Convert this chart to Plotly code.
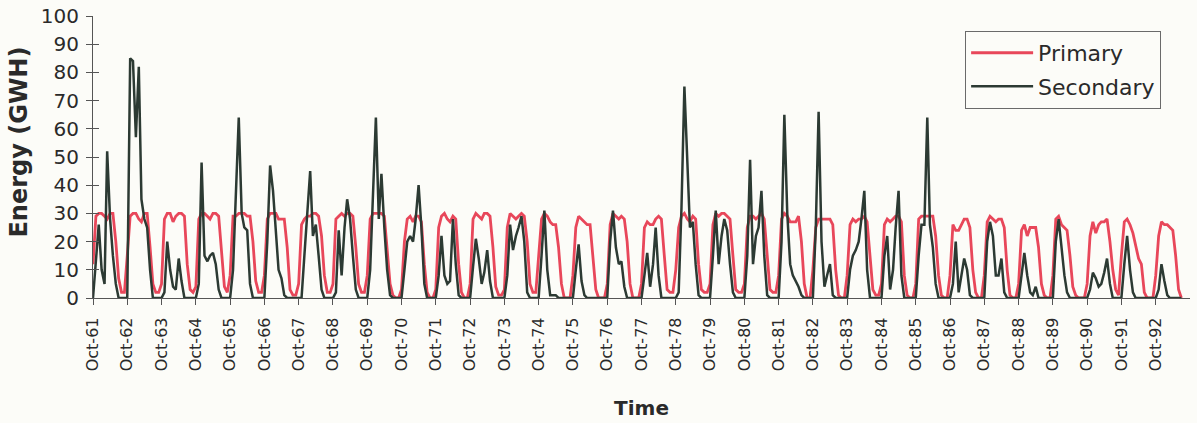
import pandas as pd
import plotly.graph_objects as go

# Monthly energy (GWH), one row per water year starting in October
primary = [
    12, 29, 30, 30, 29, 28, 30, 30, 20, 7, 2, 2,      # Oct-61
    15, 29, 30, 30, 28, 27, 30, 30, 18, 5, 2, 2,      # Oct-62
    5, 28, 30, 30, 27, 29, 30, 30, 29, 12, 3, 2,      # Oct-63
    4, 28, 30, 30, 29, 28, 30, 30, 29, 15, 4, 2,      # Oct-64
    8, 29, 29, 30, 30, 30, 29, 29, 20, 6, 2, 2,       # Oct-65
    8, 28, 30, 30, 30, 28, 28, 28, 18, 3, 1, 1,       # Oct-66
    5, 26, 28, 29, 29, 30, 30, 29, 22, 8, 2, 2,       # Oct-67
    5, 28, 29, 30, 29, 30, 30, 29, 18, 5, 2, 2,       # Oct-68
    8, 28, 30, 30, 30, 30, 29, 18, 5, 1, 0, 0,        # Oct-69
    3, 20, 28, 29, 27, 29, 29, 27, 12, 2, 0, 0,       # Oct-70
    3, 25, 29, 30, 28, 27, 29, 28, 12, 2, 0, 0,       # Oct-71
    5, 28, 30, 29, 28, 30, 30, 29, 18, 4, 1, 1,       # Oct-72
    3, 25, 30, 29, 28, 29, 30, 29, 20, 5, 2, 2,       # Oct-73
    15, 28, 30, 29, 27, 26, 26, 18, 5, 0, 0, 0,       # Oct-74
    8, 25, 29, 28, 27, 26, 26, 15, 3, 0, 0, 0,        # Oct-75
    5, 26, 30, 29, 28, 29, 28, 20, 5, 0, 0, 0,        # Oct-76
    5, 25, 27, 26, 26, 28, 29, 28, 15, 3, 2, 2,       # Oct-77
    10, 25, 29, 30, 28, 27, 29, 28, 12, 3, 2, 2,      # Oct-78
    5, 26, 30, 29, 30, 30, 29, 28, 15, 3, 2, 2,       # Oct-79
    5, 25, 29, 29, 28, 29, 30, 28, 15, 3, 2, 2,       # Oct-80
    8, 28, 30, 29, 27, 27, 27, 29, 20, 5, 0, 0,       # Oct-81
    10, 25, 28, 28, 28, 28, 28, 26, 10, 1, 0, 0,      # Oct-82
    8, 26, 28, 27, 28, 28, 29, 27, 15, 3, 1, 1,       # Oct-83
    5, 26, 28, 27, 28, 29, 29, 27, 8, 1, 0, 0,        # Oct-84
    5, 28, 29, 29, 29, 29, 29, 22, 8, 1, 0, 0,        # Oct-85
    8, 26, 24, 24, 26, 28, 28, 25, 10, 2, 0, 0,       # Oct-86
    8, 27, 29, 28, 27, 28, 28, 25, 10, 1, 0, 0,       # Oct-87
    5, 24, 26, 22, 25, 25, 25, 18, 5, 1, 0, 0,        # Oct-88
    8, 28, 29, 26, 25, 24, 15, 4, 1, 0, 0, 0,         # Oct-89
    5, 22, 27, 23, 26, 27, 27, 28, 20, 10, 3, 1,      # Oct-90
    15, 27, 28, 26, 23, 18, 14, 12, 2, 0, 0, 0,       # Oct-91
    8, 22, 27, 26, 26, 25, 24, 15, 3, 0,              # Oct-92
]

secondary = [
    0, 12, 26, 10, 5, 52, 28, 15, 5, 0, 0, 0,         # Oct-61
    0, 85, 84, 57, 82, 35, 28, 25, 10, 0, 0, 0,       # Oct-62
    0, 2, 20, 10, 4, 3, 14, 6, 0, 0, 0, 0,            # Oct-63
    0, 5, 48, 15, 13, 15, 16, 12, 3, 0, 0, 0,         # Oct-64
    0, 10, 40, 64, 30, 25, 24, 5, 0, 0, 0, 0,         # Oct-65
    0, 20, 47, 38, 22, 10, 7, 1, 0, 0, 0, 0,          # Oct-66
    0, 0, 15, 30, 45, 22, 26, 15, 3, 0, 0, 0,         # Oct-67
    0, 2, 24, 8, 25, 35, 28, 15, 3, 0, 0, 0,          # Oct-68
    0, 10, 35, 64, 28, 44, 25, 10, 1, 0, 0, 0,        # Oct-69
    0, 10, 20, 22, 20, 28, 40, 25, 5, 0, 0, 0,        # Oct-70
    0, 8, 22, 8, 5, 6, 28, 12, 1, 0, 0, 0,            # Oct-71
    0, 11, 21, 14, 5, 9, 17, 6, 0, 0, 0, 0,           # Oct-72
    0, 8, 26, 17, 22, 25, 29, 20, 2, 0, 0, 0,         # Oct-73
    0, 15, 31, 10, 1, 1, 1, 0, 0, 0, 0, 0,            # Oct-74
    0, 10, 19, 6, 1, 0, 0, 0, 0, 0, 0, 0,             # Oct-75
    0, 20, 31, 18, 12, 13, 4, 0, 0, 0, 0, 0,          # Oct-76
    0, 8, 16, 4, 12, 25, 8, 0, 0, 0, 0, 0,            # Oct-77
    0, 2, 32, 75, 45, 25, 27, 12, 1, 0, 0, 0,         # Oct-78
    0, 15, 31, 12, 22, 28, 24, 12, 2, 0, 0, 0,        # Oct-79
    0, 15, 49, 12, 22, 25, 38, 15, 1, 0, 0, 0,        # Oct-80
    0, 20, 65, 30, 12, 8, 6, 4, 1, 0, 0, 0,           # Oct-81
    0, 25, 66, 20, 4, 8, 12, 1, 0, 0, 0, 0,           # Oct-82
    0, 10, 15, 17, 20, 28, 38, 10, 0, 0, 0, 0,        # Oct-83
    0, 15, 22, 3, 10, 25, 38, 8, 0, 0, 0, 0,          # Oct-84
    0, 15, 26, 26, 64, 26, 18, 5, 0, 0, 0, 0,         # Oct-85
    0, 5, 20, 2, 8, 14, 10, 1, 0, 0, 0, 0,            # Oct-86
    0, 20, 27, 22, 8, 8, 14, 2, 0, 0, 0, 0,           # Oct-87
    0, 8, 16, 8, 2, 1, 4, 0, 0, 0, 0, 0,              # Oct-88
    0, 20, 28, 18, 8, 2, 0, 0, 0, 0, 0, 0,            # Oct-89
    0, 3, 9, 7, 4, 5, 9, 14, 5, 0, 0, 0,              # Oct-90
    0, 12, 22, 10, 2, 0, 0, 0, 0, 0, 0, 0,            # Oct-91
    0, 3, 12, 6, 1, 0, 0, 0, 0, 0,                    # Oct-92
]

tick_labels = ["Oct-%02d" % (y % 100) for y in range(1961, 1993)]
tick_dates = ["%d-10-01" % y for y in range(1961, 1993)]

months = pd.date_range("1961-10-01", periods=len(primary), freq="MS")

FONT = "DejaVu Sans, Liberation Sans, Arial, sans-serif"
TXT = "#2a2a2a"
BG = "#FCFCF8"

fig = go.Figure()
fig.add_trace(go.Scatter(x=months, y=primary, mode="lines", name="Primary",
                         line=dict(color="#E8475A", width=2.8), legendgroup="p"))
fig.add_trace(go.Scatter(x=months, y=secondary, mode="lines", name="Secondary",
                         line=dict(color="#2C3A33", width=2.5), legendgroup="s"))
# invisible trace to activate the inner half of the y tick marks
fig.add_trace(go.Scatter(x=[months[0]], y=[0], yaxis="y2", mode="lines",
                         showlegend=False, hoverinfo="skip", line=dict(width=0)))

fig.update_layout(
    width=1197, height=423,
    margin=dict(l=93, r=7, t=16, b=125, autoexpand=False),
    paper_bgcolor=BG, plot_bgcolor=BG,
    font=dict(family=FONT, color=TXT),
    showlegend=True,
    legend=dict(x=0.795, y=0.947, xanchor="left", yanchor="top",
                bordercolor="#6a6a6a", borderwidth=1, bgcolor=BG,
                font=dict(size=22, family=FONT, color=TXT),
                tracegroupgap=2, traceorder="grouped", itemwidth=62),
    xaxis=dict(
        automargin=False,
        range=["1961-10-01", "1993-10-01"],
        tickvals=tick_dates, ticktext=tick_labels, tickangle=-90,
        ticks="outside", ticklen=6, tickcolor="#555", ticklabelstandoff=6,
        showline=True, linecolor="#555", linewidth=1.2,
        showgrid=False, zeroline=False,
        tickfont=dict(size=16, family=FONT, color=TXT),
        title=dict(text="<b>Time</b>", font=dict(size=20, family=FONT, color=TXT), standoff=30),
    ),
    yaxis=dict(
        automargin=False,
        range=[0, 100], dtick=10, tick0=0,
        ticks="outside", ticklen=6, tickcolor="#555", ticklabelstandoff=3,
        showline=True, linecolor="#555", linewidth=1.2,
        showgrid=False, zeroline=False,
        tickfont=dict(size=20, family=FONT, color=TXT),
    ),
    yaxis2=dict(
        automargin=False,
        overlaying="y", anchor="x", side="left", range=[0, 100], dtick=10, tick0=0,
        ticks="inside", ticklen=6, tickcolor="#555", showticklabels=False,
        showgrid=False, zeroline=False, showline=False,
    ),
    annotations=[dict(
        text="<b>Energy (GWH)</b>", textangle=-90, showarrow=False,
        xref="paper", yref="paper", x=-0.067, y=0.553,
        xanchor="center", yanchor="middle",
        font=dict(size=24, family=FONT, color=TXT),
    )],
)

fig.write_html("out.html", config={"displayModeBar": False},
               post_script="document.body.style.margin='0px';")
